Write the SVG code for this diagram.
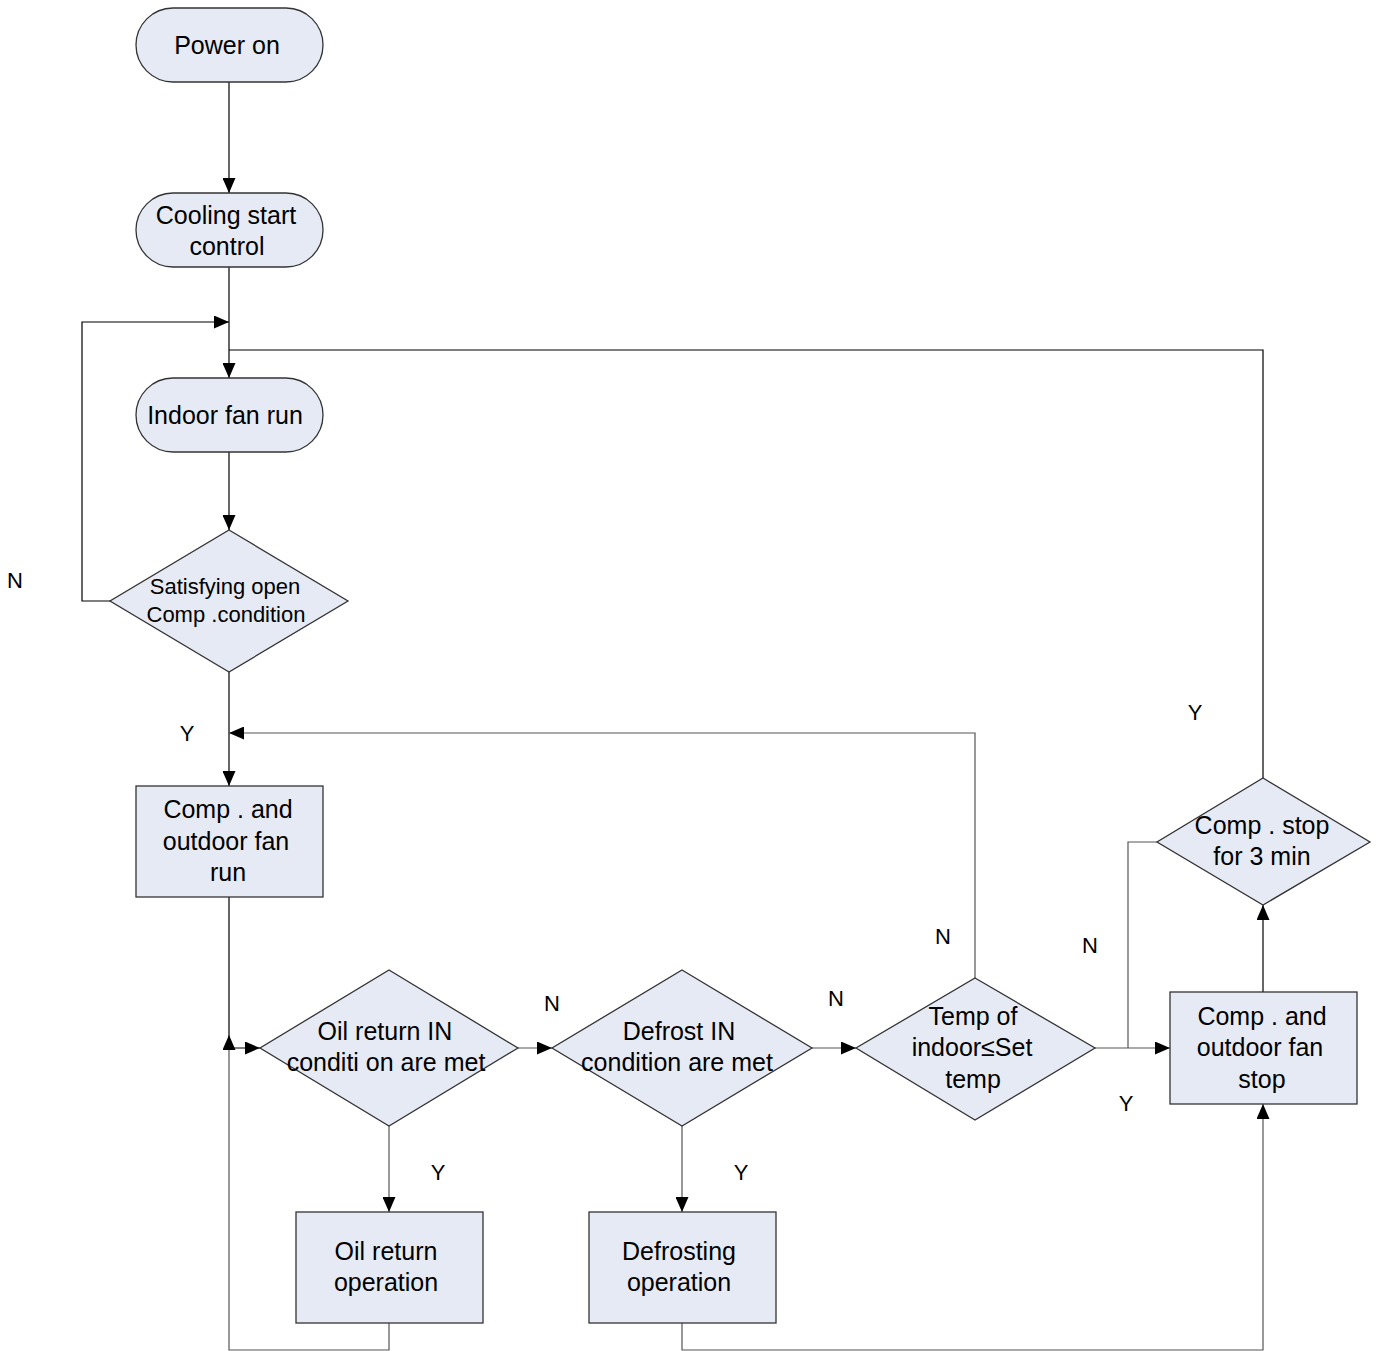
<svg xmlns="http://www.w3.org/2000/svg" width="1380" height="1351" viewBox="0 0 1380 1351">
<style>
.n{fill:#E6EAF5;stroke:#333;stroke-width:1.3}
.t{font-family:"Liberation Sans",Arial,sans-serif;font-size:25px;fill:#000;text-anchor:middle}
.s{font-size:22px}
.l{font-family:"Liberation Sans",Arial,sans-serif;font-size:22px;fill:#000;text-anchor:middle}
.c{fill:none;stroke:#000;stroke-width:1.2}
.g{fill:none;stroke:#555;stroke-width:1.2}
</style>
<defs>
<marker id="a" markerWidth="15" markerHeight="13" refX="15" refY="6.5" orient="auto" markerUnits="userSpaceOnUse">
<path d="M0,0 L15,6.5 L0,13 Z" fill="#000"/>
</marker>
</defs>
<rect width="1380" height="1351" fill="#fff"/>
<g id="connectors">
<path class="c" d="M229,82 V193" marker-end="url(#a)"/>
<path class="c" d="M229,267 V378" marker-end="url(#a)"/>
<path class="c" d="M110,601 H82 V322 H229" marker-end="url(#a)"/>
<path class="c" d="M229,452 V530" marker-end="url(#a)"/>
<path class="c" d="M229,672 V786" marker-end="url(#a)"/>
<path class="g" d="M975,978 V733 H229" marker-end="url(#a)"/>
<path class="c" d="M229,897 V1048 H260" marker-end="url(#a)"/>
<path class="g" d="M389,1323 V1350 H229 V1035" marker-end="url(#a)"/>
<path class="g" d="M518,1048 H552" marker-end="url(#a)"/>
<path class="g" d="M389,1126 V1212" marker-end="url(#a)"/>
<path class="g" d="M812,1048 H856" marker-end="url(#a)"/>
<path class="g" d="M682,1126 V1212" marker-end="url(#a)"/>
<path class="g" d="M682,1323 V1350 H1263 V1104" marker-end="url(#a)"/>
<path class="g" d="M1095,1048 H1170" marker-end="url(#a)"/>
<path class="g" d="M1157,842 H1128 V1048"/>
<path class="c" d="M1263,992 V905" marker-end="url(#a)"/>
<path class="c" d="M1263,778 V350 H229"/>
</g>
<g id="power-on">
<rect class="n" x="136" y="8" width="187" height="74" rx="37"/>
<text class="t" x="227" y="54">Power on</text>
</g>
<g id="cooling-start">
<rect class="n" x="136" y="193" width="187" height="74" rx="37"/>
<text class="t" x="226" y="224">Cooling start</text>
<text class="t" x="227" y="255">control</text>
</g>
<g id="indoor-fan">
<rect class="n" x="136" y="378" width="187" height="74" rx="37"/>
<text class="t" x="225" y="424">Indoor fan run</text>
</g>
<g id="satisfying">
<polygon class="n" points="229,530 348,601 229,672 110,601"/>
<text class="t s" x="225" y="594">Satisfying open</text>
<text class="t s" x="226" y="622">Comp .condition</text>
</g>
<g id="comp-run">
<rect class="n" x="136" y="786" width="187" height="111"/>
<text class="t" x="228" y="818">Comp . and</text>
<text class="t" x="226" y="850">outdoor fan</text>
<text class="t" x="228" y="881">run</text>
</g>
<g id="oil-cond">
<polygon class="n" points="389,970 518,1048 389,1126 260,1048"/>
<text class="t" x="385" y="1040">Oil return IN</text>
<text class="t" x="386" y="1071">conditi on are met</text>
</g>
<g id="defrost-cond">
<polygon class="n" points="682,970 812,1048 682,1126 552,1048"/>
<text class="t" x="679" y="1040">Defrost IN</text>
<text class="t" x="677" y="1071">condition are met</text>
</g>
<g id="temp-cond">
<polygon class="n" points="975,978 1095,1048 975,1120 856,1048"/>
<text class="t" x="973" y="1025">Temp of</text>
<text class="t" x="972" y="1056">indoor≤Set</text>
<text class="t" x="973" y="1088">temp</text>
</g>
<g id="comp-stop">
<rect class="n" x="1170" y="992" width="187" height="112"/>
<text class="t" x="1262" y="1025">Comp . and</text>
<text class="t" x="1260" y="1056">outdoor fan</text>
<text class="t" x="1262" y="1088">stop</text>
</g>
<g id="stop-3min">
<polygon class="n" points="1263,778 1370,842 1263,905 1157,842"/>
<text class="t" x="1262" y="834">Comp . stop</text>
<text class="t" x="1262" y="865">for 3 min</text>
</g>
<g id="oil-op">
<rect class="n" x="296" y="1212" width="187" height="111"/>
<text class="t" x="386" y="1260">Oil return</text>
<text class="t" x="386" y="1291">operation</text>
</g>
<g id="defrost-op">
<rect class="n" x="589" y="1212" width="187" height="111"/>
<text class="t" x="679" y="1260">Defrosting</text>
<text class="t" x="679" y="1291">operation</text>
</g>
<g id="labels">
<text class="l" x="15" y="588">N</text>
<text class="l" x="187" y="741">Y</text>
<text class="l" x="1195" y="720">Y</text>
<text class="l" x="943" y="944">N</text>
<text class="l" x="1090" y="953">N</text>
<text class="l" x="552" y="1011">N</text>
<text class="l" x="836" y="1006">N</text>
<text class="l" x="1126" y="1111">Y</text>
<text class="l" x="438" y="1180">Y</text>
<text class="l" x="741" y="1180">Y</text>
</g>
</svg>
